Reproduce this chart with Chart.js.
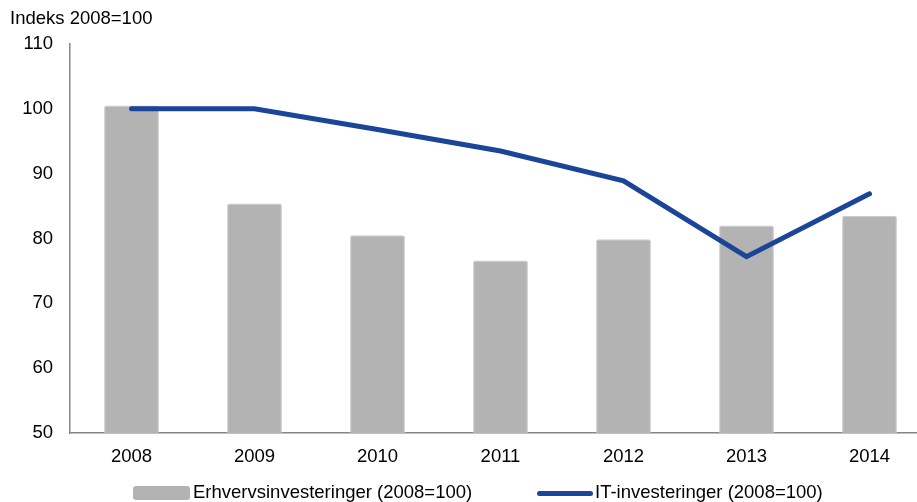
<!DOCTYPE html>
<html>
<head>
<meta charset="utf-8">
<script src="https://cdn.jsdelivr.net/npm/chart.js@4.4.1/dist/chart.umd.min.js"></script>
<style>
    html, body {
        margin: 0;
        padding: 0;
        background: #fff;
        overflow: hidden;
        width: 917px;
        height: 502px;
        font-family: "Liberation Sans", Arial, sans-serif;
    }
    #wrap {
        position: relative;
        width: 917px;
        height: 502px;
        overflow: hidden;
    }
    #chartBox {
        position: absolute;
        left: 0;
        top: 0;
        width: 940px;
        height: 502px;
    }
    #yTitle {
        position: absolute;
        left: 10px;
        top: 7px;
        font-size: 18.5px;
        color: #000;
    }
    .legend {
        position: absolute;
        top: 481px;
        font-size: 18.5px;
        color: #000;
        white-space: nowrap;
    }
    .legend .swatch {
        position: absolute;
    }
</style>
</head>
<body>
<div id="wrap">
    <div id="chartBox"><canvas id="investChart"></canvas></div>
    <div id="yTitle">Indeks 2008=100</div>
    <div class="legend" style="left:133px;">
        <span class="swatch" style="left:0;top:5px;width:57px;height:14px;background:#b3b3b3;border-radius:3px;"></span>
        <span style="position:absolute;left:60px;top:0;" id="legBar"></span>
    </div>
    <div class="legend" style="left:537px;">
        <span class="swatch" style="left:0;top:10px;width:56px;height:5px;background:#1a4598;border-radius:3px;"></span>
        <span style="position:absolute;left:58px;top:0;" id="legLine"></span>
    </div>
</div>

<script>
const years = ["2008", "2009", "2010", "2011", "2012", "2013", "2014"];
const erhvervsValues = [100.5, 85.4, 80.5, 76.6, 79.9, 82.0, 83.5];
const itValues = [100, 100, 96.8, 93.5, 88.9, 77.2, 86.9];
const yTicks = [50, 60, 70, 80, 90, 100, 110];
const seriesNames = ["Erhvervsinvesteringer (2008=100)", "IT-investeringer (2008=100)"];

document.getElementById("legBar").textContent = seriesNames[0];
document.getElementById("legLine").textContent = seriesNames[1];

Chart.defaults.font.family = '"Liberation Sans", Arial, sans-serif';
Chart.defaults.color = "#000";

const ctx = document.getElementById("investChart").getContext("2d");

new Chart(ctx, {
    data: {
        labels: years,
        datasets: [
            {
                type: "line",
                label: seriesNames[1],
                data: itValues,
                borderColor: "#1a4598",
                borderWidth: 5,
                borderCapStyle: "round",
                borderJoinStyle: "miter",
                pointRadius: 0,
                tension: 0,
                fill: false,
                order: 1,
            },
            {
                type: "bar",
                label: seriesNames[0],
                data: erhvervsValues,
                backgroundColor: "#b3b3b3",
                borderColor: "#c8c8c8",
                borderWidth: 1,
                borderRadius: 2,
                borderSkipped: false,
                barPercentage: 0.445,
                categoryPercentage: 1,
                order: 2,
            },
        ],
    },
    options: {
        responsive: true,
        maintainAspectRatio: false,
        animation: false,
        layout: {
            padding: {top: 44, right: 9, bottom: 0, left: 0},
        },
        plugins: {
            legend: {display: false},
            tooltip: {enabled: false},
        },
        scales: {
            x: {
                grid: {display: false},
                border: {display: true, color: "#868686", width: 1.5},
                ticks: {
                    font: {size: 18.5},
                    padding: 5,
                    maxRotation: 0,
                },
                afterFit: function (scale) {
                    scale.height = 69;
                },
            },
            y: {
                min: 50,
                max: 110,
                grid: {display: false},
                border: {display: true, color: "#868686", width: 1.5},
                afterBuildTicks: function (scale) {
                    scale.ticks = yTicks.map(function (v) {
                        return {value: v};
                    });
                },
                ticks: {
                    font: {size: 18.5},
                    padding: 9,
                },
                afterFit: function (scale) {
                    scale.width = 70;
                },
            },
        },
    },
});
</script>
</body>
</html>
